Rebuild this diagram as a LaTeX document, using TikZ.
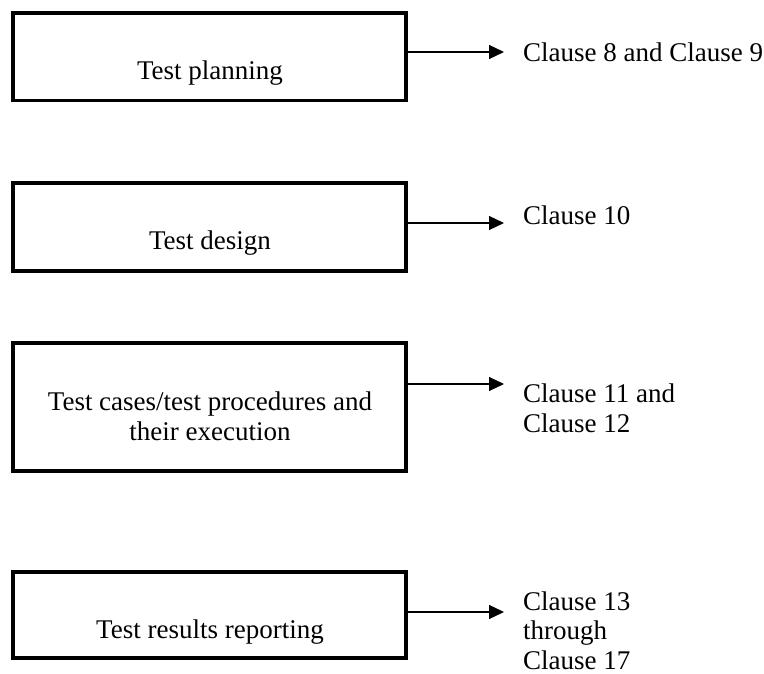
\documentclass[tikz,border=0pt]{standalone}
\usepackage{fontspec}
\setmainfont{Liberation Serif}
\usetikzlibrary{arrows.meta,positioning,calc}

\begin{document}
\begin{tikzpicture}[
  x=1pt,y=-1pt,
  font=\fontsize{27}{29.5}\selectfont,>={Triangle[length=15pt,width=14pt]},
  stage/.style={draw, line width=3.5pt, minimum width=393pt, inner sep=0pt},
  txt/.style={inner sep=0pt, align=center},
  ref/.style={inner sep=0pt, align=left},
  flow/.style={->, line width=1.2pt, shorten >=19pt},
]
\useasboundingbox (0,0) rectangle (764,674);
% stages (left column)
\node[stage, minimum height=87.5pt] (plan) at (209.5,56.75) {};
\node[stage, minimum height=88pt] (design) at (209.5,227) {};
\node[stage, minimum height=128pt] (cases) at (209.5,407) {};
\node[stage, minimum height=86pt] (report) at (209.5,615) {};
\node[txt, anchor=base] (plantxt) at (210,80) {Test planning};
\node[txt, anchor=base] (designtxt) at (210,250) {Test design};
\node[txt, anchor=base] (casestxt) at (210,440) {Test cases/test procedures and\\their execution};
\node[txt, anchor=base] (reporttxt) at (210,638) {Test results reporting};
% clause references (right column)
\node[ref, anchor=base west] (cl1) at (523,62) {Clause 8 and Clause 9};
\node[ref, anchor=base west] (cl2) at (523,225) {Clause 10};
\node[ref, anchor=base west] (cl3) at (523,432) {Clause 11 and\\Clause 12};
\node[ref, anchor=base west] (cl4) at (523,669) {Clause 13\\through\\Clause 17};
% arrows
\draw[flow] ([yshift=4.75pt]plan.east) -- ([yshift=4.75pt]plan.east -| cl1.west);
\draw[flow] ([yshift=4pt]design.east) -- ([yshift=4pt]design.east -| cl2.west);
\draw[flow] ([yshift=23pt]cases.east) -- ([yshift=23pt]cases.east -| cl3.west);
\draw[flow] ([yshift=3pt]report.east) -- ([yshift=3pt]report.east -| cl4.west);
\end{tikzpicture}
\end{document}
